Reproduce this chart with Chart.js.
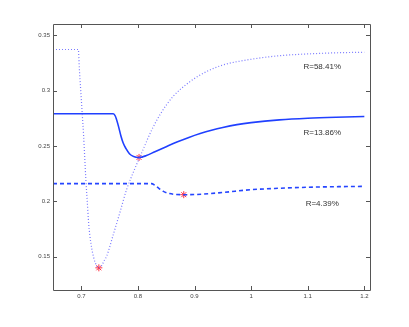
<!DOCTYPE html>
<html><head><meta charset="utf-8">
<script src="https://cdn.jsdelivr.net/npm/chart.js@4/dist/chart.umd.min.js"></script>
<style>html,body{margin:0;padding:0;background:#fff;}canvas{display:block;}</style>
</head><body>
<canvas id="c" width="409" height="327"></canvas>
<script>
const xTicks = [0.7, 0.8, 0.9, 1, 1.1, 1.2];
const yTicks = [0.15, 0.2, 0.25, 0.3, 0.35];

const dottedX = [0.65,0.6947,0.6965,0.699,0.7015,0.704,0.706,0.708,0.7105,0.713,0.717,0.722,0.727,0.731,0.736,0.741,0.7448,0.7565,0.768,0.780,0.795,0.809,0.824,0.840,0.862,0.892,0.921,0.950,0.992,1.050,1.10,1.15,1.20];
const dottedY = [0.337,0.337,0.32,0.30,0.28,0.26,0.24,0.22,0.20,0.18,0.162,0.149,0.142,0.140,0.142,0.147,0.1505,0.170,0.1896,0.2106,0.230,0.2465,0.264,0.279,0.2945,0.308,0.317,0.323,0.3275,0.3314,0.333,0.334,0.3345];

const solidX = [0.65,0.7565,0.760,0.765,0.770,0.774,0.779,0.785,0.791,0.797,0.802,0.815,0.830,0.850,0.870,0.890,0.910,0.930,0.950,0.975,1.0,1.05,1.1,1.15,1.2];
const solidY = [0.279,0.279,0.277,0.269,0.259,0.2526,0.2475,0.2430,0.2408,0.2398,0.2396,0.2413,0.2448,0.2493,0.2537,0.2577,0.2612,0.2642,0.2667,0.2692,0.2710,0.2735,0.2750,0.2759,0.2765];

const dashedX = [0.65,0.824,0.830,0.836,0.845,0.856,0.868,0.881,0.904,0.95,1.0,1.05,1.1,1.15,1.2];
const dashedY = [0.216,0.216,0.2145,0.2121,0.209,0.207,0.2062,0.206,0.2062,0.208,0.2105,0.2118,0.2127,0.2132,0.2135];

const minX = [0.731, 0.802, 0.881];
const minY = [0.140, 0.2396, 0.206];

const labelTexts = ['R=58.41%', 'R=13.86%', 'R=4.39%'];
const labelX = [1.1256, 1.1256, 1.1256];
const labelY = [0.3215, 0.2621, 0.1982];

const pts = (xs, ys) => xs.map((x, i) => ({x: x, y: ys[i]}));

const boxPlugin = {
  id: 'box',
  afterDraw(chart) {
    const ctx = chart.ctx, a = chart.chartArea;
    const xs = chart.scales.x, ys = chart.scales.y;
    ctx.save();
    ctx.strokeStyle = '#555';
    ctx.lineWidth = 1;
    ctx.beginPath();
    ctx.rect(Math.round(a.left) + 0.5, Math.round(a.top) + 0.5, Math.round(a.right - a.left), Math.round(a.bottom - a.top));
    ctx.stroke();
    const L = 4;
    ctx.beginPath();
    xTicks.forEach(v => {
      const px = Math.round(xs.getPixelForValue(v)) + 0.5;
      ctx.moveTo(px, a.bottom); ctx.lineTo(px, a.bottom - L);
      ctx.moveTo(px, a.top); ctx.lineTo(px, a.top + L);
    });
    yTicks.forEach(v => {
      const py = Math.round(ys.getPixelForValue(v)) + 0.5;
      ctx.moveTo(a.left, py); ctx.lineTo(a.left + L, py);
      ctx.moveTo(a.right, py); ctx.lineTo(a.right - L, py);
    });
    ctx.stroke();
    ctx.fillStyle = '#333';
    ctx.font = '8px "Liberation Sans", Arial, sans-serif';
    ctx.textAlign = 'center';
    ctx.textBaseline = 'middle';
    labelTexts.forEach((t, i) => {
      ctx.fillText(t, xs.getPixelForValue(labelX[i]), ys.getPixelForValue(labelY[i]));
    });
    ctx.restore();
  }
};

new Chart(document.getElementById('c'), {
  type: 'scatter',
  data: {
    datasets: [
      {data: pts(dottedX, dottedY), showLine: true, borderColor: '#7a7aff', borderWidth: 1.2, borderDash: [1, 2], pointRadius: 0, cubicInterpolationMode: 'monotone'},
      {data: pts(solidX, solidY), showLine: true, borderColor: '#2040ff', borderWidth: 1.6, pointRadius: 0, cubicInterpolationMode: 'monotone'},
      {data: pts(dashedX, dashedY), showLine: true, borderColor: '#2545ff', borderWidth: 1.6, borderDash: [4, 3], pointRadius: 0, cubicInterpolationMode: 'monotone'},
      {data: pts(minX, minY), showLine: false, pointStyle: 'star', pointRadius: 3.5, borderColor: '#ff3040', backgroundColor: '#ff3040', borderWidth: 1}
    ]
  },
  plugins: [boxPlugin],
  options: {
    responsive: false,
    animation: false,
    events: [],
    layout: {padding: {top: 24, right: 39, left: 0, bottom: 0}},
    plugins: {legend: {display: false}, tooltip: {enabled: false}},
    scales: {
      x: {
        type: 'linear', min: 0.65, max: 1.21,
        afterBuildTicks: s => { s.ticks = xTicks.map(v => ({value: v})); },
        afterFit: s => { s.height = 37; },
        grid: {display: false, drawTicks: false},
        border: {display: false},
        ticks: {padding: 3, color: '#444', font: {size: 6, family: '"Liberation Sans", Arial, sans-serif'}, maxRotation: 0, autoSkip: false,
          callback: (v) => String(v)}
      },
      y: {
        type: 'linear', min: 0.12, max: 0.36,
        afterBuildTicks: s => { s.ticks = yTicks.map(v => ({value: v})); },
        afterFit: s => { s.width = 53; },
        grid: {display: false, drawTicks: false},
        border: {display: false},
        ticks: {padding: 3, color: '#444', font: {size: 6, family: '"Liberation Sans", Arial, sans-serif'}, autoSkip: false,
          callback: (v) => String(v)}
      }
    }
  }
});
</script>
</body></html>
